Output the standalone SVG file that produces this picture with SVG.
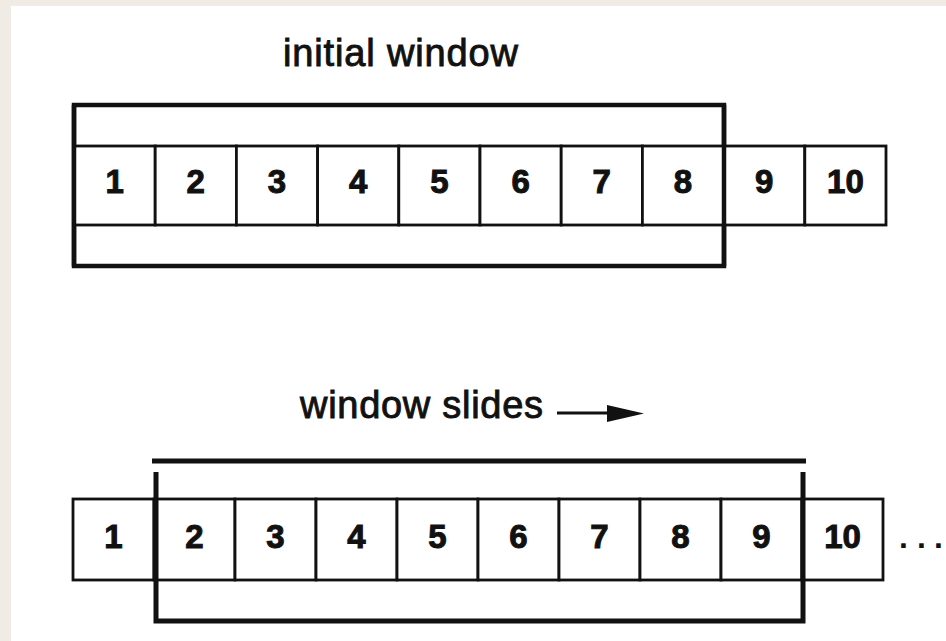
<svg xmlns="http://www.w3.org/2000/svg" width="946" height="641" viewBox="0 0 946 641">
  <style>
    .cell { fill: #fff; stroke: #111; stroke-width: 2.8; }
    .num { font-family: "Liberation Sans", Arial, sans-serif; font-weight: bold; font-size: 33px; fill: #111; stroke: #111; stroke-width: 1; text-anchor: middle; }
    .dots { font-family: "Liberation Sans", Arial, sans-serif; font-weight: bold; font-size: 32px; fill: #111; text-anchor: start; }
    .label { font-family: "Liberation Sans", Arial, sans-serif; font-size: 38px; fill: #111; stroke: #111; stroke-width: 0.9; }
    .win { fill: none; stroke: #111; stroke-width: 4.5; }
    .bar { stroke: #111; stroke-width: 5; fill: none; }
  </style>

  <!-- page background with white sheet -->
  <rect x="0" y="0" width="946" height="641" fill="#f1ebe5"/>
  <rect x="11" y="6" width="935" height="635" fill="#fff"/>

  <!-- top: initial window -->
  <text class="label" x="400.5" y="66" text-anchor="middle" textLength="235">initial window</text>

  <g id="top-window">
    <path class="win" d="M74,105 H724 V266 H74 Z"/>
  </g>
  <g id="top-cells">
    <g id="t1"><rect class="cell" x="74" y="146" width="81.2" height="79"/><text class="num" x="114.6" y="193">1</text></g>
    <g id="t2"><rect class="cell" x="155.2" y="146" width="81.2" height="79"/><text class="num" x="195.8" y="193">2</text></g>
    <g id="t3"><rect class="cell" x="236.4" y="146" width="81.2" height="79"/><text class="num" x="277" y="193">3</text></g>
    <g id="t4"><rect class="cell" x="317.6" y="146" width="81.2" height="79"/><text class="num" x="358.2" y="193">4</text></g>
    <g id="t5"><rect class="cell" x="398.8" y="146" width="81.2" height="79"/><text class="num" x="439.4" y="193">5</text></g>
    <g id="t6"><rect class="cell" x="480" y="146" width="81.2" height="79"/><text class="num" x="520.6" y="193">6</text></g>
    <g id="t7"><rect class="cell" x="561.2" y="146" width="81.2" height="79"/><text class="num" x="601.8" y="193">7</text></g>
    <g id="t8"><rect class="cell" x="642.4" y="146" width="81.2" height="79"/><text class="num" x="683" y="193">8</text></g>
    <g id="t9"><rect class="cell" x="723.6" y="146" width="81.2" height="79"/><text class="num" x="764.2" y="193">9</text></g>
    <g id="t10"><rect class="cell" x="804.8" y="146" width="81.2" height="79"/><text class="num" x="845.4" y="193">10</text></g>
  </g>
  <!-- window side edges drawn over the cell borders -->
  <path class="win" d="M74,105 V266 M724,105 V266"/>

  <!-- bottom: window slides -->
  <text class="label" x="300" y="418" textLength="243">window slides</text>
  <g id="connectors">
    <line x1="557" y1="413" x2="612" y2="413" stroke="#111" stroke-width="3.2"/>
    <path d="M607,405 L644,413.5 L607,422 Z" fill="#111"/>
  </g>

  <g id="bottom-cells">
    <g id="b1"><rect class="cell" x="73" y="499" width="81" height="81"/><text class="num" x="113.5" y="548">1</text></g>
    <g id="b2"><rect class="cell" x="154" y="499" width="81" height="81"/><text class="num" x="194.5" y="548">2</text></g>
    <g id="b3"><rect class="cell" x="235" y="499" width="81" height="81"/><text class="num" x="275.5" y="548">3</text></g>
    <g id="b4"><rect class="cell" x="316" y="499" width="81" height="81"/><text class="num" x="356.5" y="548">4</text></g>
    <g id="b5"><rect class="cell" x="397" y="499" width="81" height="81"/><text class="num" x="437.5" y="548">5</text></g>
    <g id="b6"><rect class="cell" x="478" y="499" width="81" height="81"/><text class="num" x="518.5" y="548">6</text></g>
    <g id="b7"><rect class="cell" x="559" y="499" width="81" height="81"/><text class="num" x="599.5" y="548">7</text></g>
    <g id="b8"><rect class="cell" x="640" y="499" width="81" height="81"/><text class="num" x="680.5" y="548">8</text></g>
    <g id="b9"><rect class="cell" x="721" y="499" width="81" height="81"/><text class="num" x="761.5" y="548">9</text></g>
    <g id="b10"><rect class="cell" x="802" y="499" width="81" height="81"/><text class="num" x="842.5" y="548">10</text></g>
  </g>
  <text class="dots" x="899 917 934" y="548">...</text>

  <g id="bottom-window">
    <line class="bar" x1="152" y1="461" x2="806" y2="461"/>
    <path class="bar" d="M156,472 V621 H803 V472"/>
  </g>
</svg>
